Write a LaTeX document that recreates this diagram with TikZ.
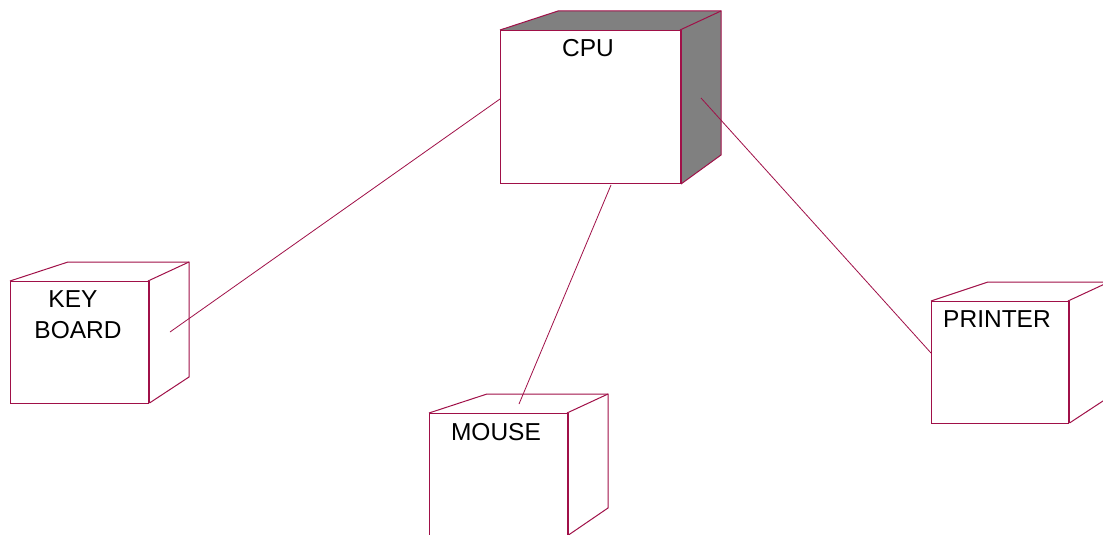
\documentclass[tikz,border=0pt]{standalone}
\usepackage{fontspec}
\setmainfont{Liberation Sans}
\definecolor{edge}{RGB}{160,16,72}
\definecolor{cubegray}{RGB}{128,128,128}
\tikzset{
  boxline/.style={draw=edge, line width=1pt, line join=miter},
  link/.style={draw=edge, line width=0.8pt},
  lbl/.style={anchor=base, inner sep=0pt, font=\fontsize{24.5}{28}\selectfont},
}
\begin{document}
\begin{tikzpicture}[x=1pt,y=-1pt]
\useasboundingbox (0,0) rectangle (1103,535);
\clip (0,0) rectangle (1103,535);
\fill[white] (0,0) rectangle (1103,535);

% ---------- CPU ----------
\fill[cubegray] (500,30) -- (558,11) -- (721,11) -- (721,155) -- (681,184) -- (680,30) -- cycle;
\draw[boxline] (500,30) -- (558,11) -- (721,11) -- (721,155) -- (681,184);
\draw[boxline] (680,30) -- (721,11);
\node[boxline, fill=white, rectangle, minimum width=180, minimum height=153, inner sep=0pt, anchor=north west] (cpu) at (500,30) {};
\draw[boxline] (681.5,30) -- (681.5,184);
\node[lbl] (cputxt) at (588,57) {CPU};

% ---------- KEY BOARD ----------
\draw[boxline] (10,281) -- (68,262) -- (189,262) -- (189,377) -- (149.5,403);
\draw[boxline] (148,281) -- (189,262);
\node[boxline, rectangle, minimum width=138, minimum height=122, inner sep=0pt, anchor=north west] (kbd) at (10,281) {};
\draw[boxline] (149.5,281) -- (149.5,403);
\node[lbl] (kbdtxt1) at (73,307) {KEY};
\node[lbl] (kbdtxt2) at (78,338) {BOARD};

% ---------- MOUSE ----------
\draw[boxline] (429,413) -- (487,394) -- (608,394) -- (608,508) -- (568.5,535);
\draw[boxline] (567,413) -- (608,394);
\node[boxline, rectangle, minimum width=138, minimum height=122, inner sep=0pt, anchor=north west] (mouse) at (429,413) {};
\draw[boxline] (568.5,413) -- (568.5,535);
\node[lbl] (mousetxt) at (496,440) {MOUSE};

% ---------- PRINTER ----------
\draw[boxline] (931,301) -- (988,282) -- (1109,282) -- (1109,397) -- (1069.5,423);
\draw[boxline] (1068,301) -- (1109,282);
\node[boxline, rectangle, minimum width=137, minimum height=122, inner sep=0pt, anchor=north west] (printer) at (931,301) {};
\draw[boxline] (1069.5,301) -- (1069.5,423);
\node[lbl] (printertxt) at (997,327) {PRINTER};

% ---------- connectors ----------
\coordinate (cpuL) at (500,99);
\coordinate (cpuB) at (611,185);
\coordinate (cpuR) at (701,98);
\coordinate (kbdE) at (170,332);
\coordinate (mouseE) at (519,404);
\coordinate (printerE) at (931,353);
\draw[link] (cpuL) -- (kbdE);
\draw[link] (cpuB) -- (mouseE);
\draw[link] (cpuR) -- (printerE);
\end{tikzpicture}
\end{document}
